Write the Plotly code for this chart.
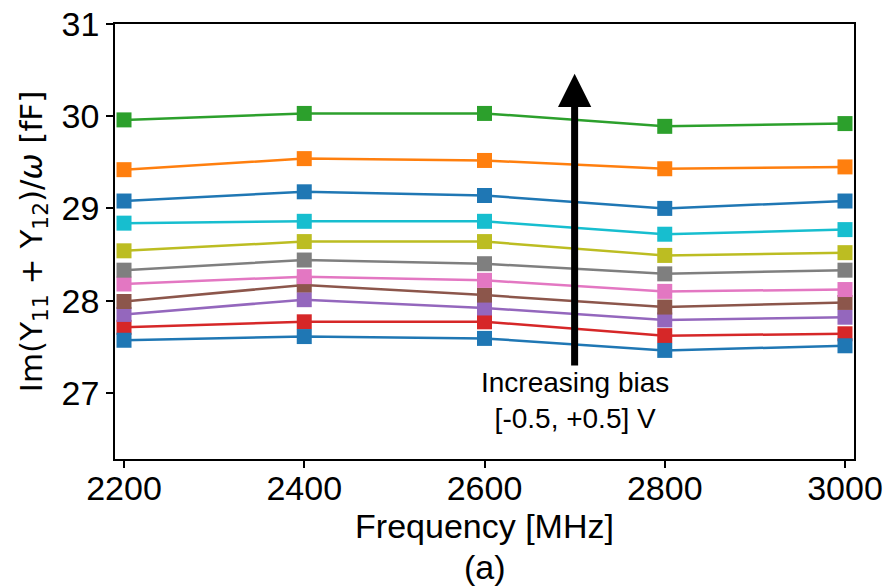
import plotly.graph_objects as go

freq = [2200, 2400, 2600, 2800, 3000]

# series in plotting order (matplotlib tab10 colour cycle)
s0 = [29.08, 29.18, 29.14, 29.00, 29.08]   # blue (upper)
s1 = [29.42, 29.54, 29.52, 29.43, 29.45]   # orange
s2 = [29.96, 30.03, 30.03, 29.89, 29.92]   # green
s3 = [27.71, 27.77, 27.77, 27.62, 27.64]   # red
s4 = [27.85, 28.01, 27.92, 27.79, 27.82]   # purple
s5 = [27.99, 28.17, 28.06, 27.93, 27.98]   # brown
s6 = [28.18, 28.26, 28.22, 28.10, 28.12]   # pink
s7 = [28.33, 28.44, 28.40, 28.29, 28.33]   # gray
s8 = [28.54, 28.64, 28.64, 28.49, 28.52]   # olive
s9 = [28.84, 28.86, 28.86, 28.72, 28.77]   # cyan
s10 = [27.57, 27.61, 27.59, 27.46, 27.51]  # blue (lower)

series = [s0, s1, s2, s3, s4, s5, s6, s7, s8, s9, s10]
colors = ["#1f77b4", "#ff7f0e", "#2ca02c", "#d62728", "#9467bd",
          "#8c564b", "#e377c2", "#7f7f7f", "#bcbd22", "#17becf", "#1f77b4"]

x_ticks = [2200, 2400, 2600, 2800, 3000]
y_ticks = [27, 28, 29, 30, 31]

fig = go.Figure()
for vals, col in zip(series, colors):
    fig.add_trace(go.Scatter(
        x=freq, y=vals, mode="lines+markers",
        line=dict(color=col, width=2.5),
        marker=dict(symbol="square", size=15, color=col, line=dict(width=0)),
        showlegend=False,
    ))

font_main = "Liberation Sans, Arial, Helvetica, sans-serif"

fig.add_annotation(
    x=2700, y=30.46, ax=2700, ay=27.28,
    xref="x", yref="y", axref="x", ayref="y",
    text="", showarrow=True, arrowhead=2, arrowsize=0.95,
    arrowwidth=7, arrowcolor="black", standoff=0,
)
fig.add_annotation(
    x=2700, y=26.92, xref="x", yref="y",
    text="Increasing bias<br>[-0.5, +0.5] V", showarrow=False,
    font=dict(family=font_main, size=28, color="black"),
    xanchor="center", yanchor="middle", align="center",
)
fig.add_annotation(
    x=0.5, y=-0.248, xref="paper", yref="paper",
    text="(a)", showarrow=False,
    font=dict(family=font_main, size=34, color="black"),
    xanchor="center", yanchor="middle",
)

fig.update_layout(
    width=888, height=587,
    margin=dict(l=115, r=34, t=24, b=128),
    paper_bgcolor="white", plot_bgcolor="white",
    font=dict(family=font_main, color="black"),
    xaxis=dict(
        range=[2190, 3010], tickvals=x_ticks, ticktext=[str(v) for v in x_ticks],
        ticks="outside", ticklen=7, tickwidth=1.5, tickcolor="black",
        showline=True, linecolor="black", linewidth=1.5, mirror=True,
        showgrid=False, zeroline=False, automargin=False,
        ticklabelstandoff=-9,
        tickfont=dict(family=font_main, size=34, color="black"),
        title=dict(text="Frequency [MHz]", standoff=8,
                   font=dict(family=font_main, size=34, color="black")),
    ),
    yaxis=dict(
        range=[26.282, 31.0], tickvals=y_ticks, ticktext=[str(v) for v in y_ticks],
        ticks="outside", ticklen=7, tickwidth=1.5, tickcolor="black",
        showline=True, linecolor="black", linewidth=1.5, mirror=True,
        showgrid=False, zeroline=False, automargin=False,
        tickfont=dict(family=font_main, size=34, color="black"),
        title=dict(text="Im(Y<sub>11</sub> + Y<sub>12</sub>)/<i>ω</i> [fF]", standoff=10,
                   font=dict(family="DejaVu Sans", size=31, color="black")),
    ),
)

fig.write_html("out.html")
